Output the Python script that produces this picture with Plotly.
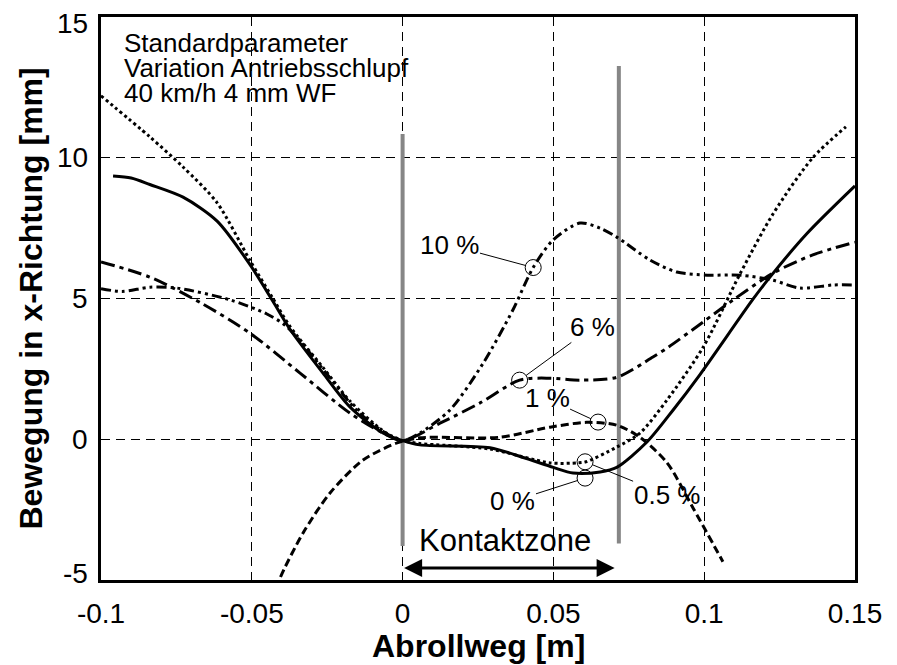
import plotly.graph_objects as go

# ---- data (x in m, y in mm) ----
x_0 = [-0.096, -0.09, -0.0838, -0.0728, -0.0615, -0.0506, -0.043, -0.0373, -0.0264, -0.0174, -0.0065, 0.0, 0.0057, 0.029, 0.04, 0.05, 0.0565, 0.0655, 0.071, 0.081, 0.0897, 0.0986, 0.116, 0.1218, 0.134, 0.15]
y_0 = [9.35, 9.28, 9.05, 8.6, 7.75, 6.2, 4.9, 3.9, 2.35, 1.14, 0.22, -0.05, -0.2, -0.3, -0.65, -1.0, -1.2, -1.16, -1.0, -0.1, 1.04, 2.3, 4.95, 5.76, 7.3, 9.0]

x_05 = [-0.1, -0.0838, -0.0728, -0.0615, -0.0506, -0.043, -0.0373, -0.0264, -0.0174, -0.0065, 0.0, 0.0057, 0.029, 0.0489, 0.058, 0.0608, 0.071, 0.0787, 0.0877, 0.0997, 0.112, 0.1228, 0.136, 0.147]
y_05 = [12.2, 10.74, 9.67, 8.4, 6.35, 5.0, 4.0, 2.55, 1.35, 0.3, -0.05, -0.15, -0.35, -0.84, -0.84, -0.8, -0.28, 0.22, 1.4, 3.28, 5.9, 8.0, 10.0, 11.1]

x_1 = [-0.0415, -0.0406, -0.033, -0.024, -0.0131, -0.0018, 0.0057, 0.032, 0.0489, 0.061, 0.071, 0.0787, 0.0877, 0.0963, 0.1062]
y_1 = [-5.3, -4.93, -3.33, -1.9, -0.74, -0.13, 0.05, 0.07, 0.43, 0.6, 0.5, 0.07, -0.84, -2.44, -4.35]

x_6 = [-0.1, -0.0838, -0.067, -0.0506, -0.034, -0.0175, -0.0065, 0.0, 0.0124, 0.0257, 0.0388, 0.0489, 0.0588, 0.071, 0.083, 0.0877, 0.0997, 0.1096, 0.1228, 0.136, 0.15]
y_6 = [6.3, 5.76, 4.85, 3.77, 2.35, 0.93, 0.22, -0.05, 0.57, 1.29, 2.1, 2.17, 2.1, 2.2, 2.92, 3.24, 4.17, 4.95, 5.9, 6.55, 7.0]

x_10 = [-0.1, -0.093, -0.0838, -0.0748, -0.0572, -0.045, -0.0383, -0.025, -0.015, -0.006, 0.0, 0.0057, 0.0157, 0.0267, 0.0366, 0.0433, 0.0499, 0.0588, 0.0655, 0.071, 0.082, 0.0909, 0.101, 0.112, 0.1228, 0.1317, 0.1427, 0.15]
y_10 = [5.35, 5.25, 5.4, 5.37, 4.95, 4.45, 3.99, 2.3, 1.0, 0.25, -0.05, 0.22, 1.04, 2.7, 4.6, 6.1, 7.08, 7.68, 7.5, 7.18, 6.37, 5.94, 5.83, 5.83, 5.65, 5.37, 5.48, 5.48]

# labels: name, marker point on curve, label position
label_texts = ["10 %", "6 %", "1 %", "0.5 %", "0 %"]
marker_x = [0.0433, 0.0388, 0.0648, 0.0605, 0.0605]
marker_y = [6.1, 2.1, 0.61, -0.8, -1.38]
label_x = [0.0157, 0.063, 0.0479, 0.0877, 0.0366]
label_y = [6.9, 3.99, 1.45, -1.98, -2.2]

# contact zone
contact_start = 0.0
contact_end = 0.0717
contact_line1 = [10.84, -3.79]
contact_line2 = [13.26, -3.7]
arrow_end = 0.0703
arrow_y = -4.57

x_ticks = [-0.1, -0.05, 0, 0.05, 0.1, 0.15]
x_ticklabels = ["-0.1", "-0.05", "0", "0.05", "0.1", "0.15"]
y_ticks = [-5, 0, 5, 10, 15]
y_ticklabels = ["-5", "0", "5", "10", "15"]
y_label_shift_px = [7, 0, 0, 0, -6]   # extreme labels sit slightly inside, as in the reference

FONT = "Liberation Sans, Arial, sans-serif"

fig = go.Figure()

# contact zone gray lines
fig.add_trace(go.Scatter(x=[contact_start, contact_start], y=contact_line1, mode="lines",
                         line=dict(color="#868686", width=4), showlegend=False, hoverinfo="skip"))
fig.add_trace(go.Scatter(x=[contact_end, contact_end], y=contact_line2, mode="lines",
                         line=dict(color="#868686", width=4), showlegend=False, hoverinfo="skip"))

series = [
    (x_0, y_0, "solid", 3),
    (x_05, y_05, "3px,3px", 3),
    (x_1, y_1, "8px,4px", 3),
    (x_6, y_6, "14px,5px,4px,5px", 3),
    (x_10, y_10, "10px,4px,3px,4px,3px,4px", 3),
]
for xs, ys, dash, w in series:
    fig.add_trace(go.Scatter(x=xs, y=ys, mode="lines",
                             line=dict(color="black", width=w, dash=dash, shape="spline", smoothing=0.8),
                             showlegend=False, hoverinfo="skip"))

fig.add_trace(go.Scatter(x=marker_x, y=marker_y, mode="markers",
                         marker=dict(symbol="circle-open", size=16, color="black", line=dict(width=1)),
                         showlegend=False, hoverinfo="skip"))

annotations = []
for t, mx, my, lx, ly in zip(label_texts, marker_x, marker_y, label_x, label_y):
    annotations.append(dict(x=mx, y=my, ax=lx, ay=ly, axref="x", ayref="y", xref="x", yref="y",
                            text=t, showarrow=True, arrowhead=0, arrowwidth=1, arrowcolor="black",
                            standoff=8, font=dict(family=FONT, size=26, color="black"), borderpad=0))

# arrow Kontaktzone
annotations.append(dict(x=arrow_end, y=arrow_y, ax=contact_start, ay=arrow_y, axref="x", ayref="y",
                        xref="x", yref="y", text="", showarrow=True, arrowhead=2, arrowsize=1.2,
                        arrowwidth=3, arrowcolor="black", arrowside="end+start", standoff=0, startstandoff=0))
annotations.append(dict(x=0.034, y=-3.6, xref="x", yref="y", text="Kontaktzone", showarrow=False,
                        font=dict(family=FONT, size=31, color="black")))

# info text
info_lines = ["Standardparameter", "Variation Antriebsschlupf", "40 km/h 4 mm WF"]
info_y_px = [43, 68, 93]
for line, ypx in zip(info_lines, info_y_px):
    annotations.append(dict(x=(122 - 101) / 754, y=1 - (ypx - 17) / 563, xref="paper", yref="paper",
                            text=line, showarrow=False, xanchor="left", yanchor="middle",
                            font=dict(family=FONT, size=26, color="black")))

# y tick labels (as annotations so the extreme ones can sit inside like the reference)
for v, t, s in zip(y_ticks, y_ticklabels, y_label_shift_px):
    annotations.append(dict(x=0, y=v, xref="paper", yref="y", text=t, showarrow=False,
                            xanchor="right", yanchor="middle", xshift=-11, yshift=s,
                            font=dict(family=FONT, size=28, color="black")))

# axis titles
annotations.append(dict(x=0.5, y=(580 - 646) / 563, xref="paper", yref="paper", text="<b>Abrollweg [m]</b>",
                        showarrow=False, xanchor="center", yanchor="middle",
                        font=dict(family=FONT, size=32, color="black")))
annotations.append(dict(x=(30 - 101) / 754, y=0.5, xref="paper", yref="paper",
                        text="<b>Bewegung in x-Richtung [mm]</b>", textangle=-90,
                        showarrow=False, xanchor="center", yanchor="middle",
                        font=dict(family=FONT, size=32, color="black")))

fig.update_layout(
    width=897, height=665,
    margin=dict(l=101, r=42, t=17, b=85),
    plot_bgcolor="white", paper_bgcolor="white",
    font=dict(family=FONT, size=28, color="black"),
    annotations=annotations,
    xaxis=dict(range=[-0.1, 0.15], tickvals=x_ticks, ticktext=x_ticklabels,
               showgrid=True, gridcolor="black", gridwidth=1, griddash="9px,6px",
               showline=True, linecolor="black", linewidth=3, mirror=True,
               zeroline=False, ticks="", ticklabelstandoff=6),
    yaxis=dict(range=[-5, 15], tickvals=y_ticks, showticklabels=False,
               showgrid=True, gridcolor="black", gridwidth=1, griddash="9px,6px",
               showline=True, linecolor="black", linewidth=3, mirror=True,
               zeroline=False, ticks=""),
)

fig.write_html("out.html")
